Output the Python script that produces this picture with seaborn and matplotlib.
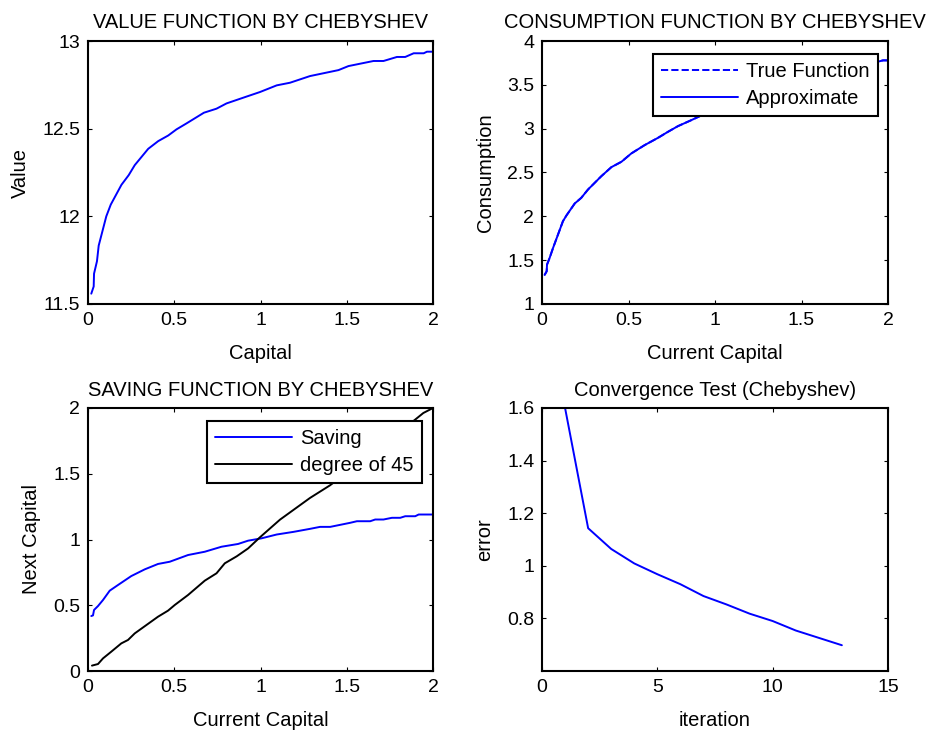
import matplotlib
matplotlib.use("Agg")
import matplotlib.pyplot as plt
import seaborn as sns
import pandas as pd

# ---- value function (Chebyshev approximation) ----
value_k = [0.019, 0.033, 0.035, 0.052, 0.062, 0.106, 0.132, 0.194, 0.236, 0.271,
           0.349, 0.407, 0.465, 0.513, 0.571, 0.672, 0.745, 0.803, 0.910, 0.997,
           1.094, 1.171, 1.287, 1.452, 1.510, 1.655, 1.713, 1.791, 1.839, 1.888,
           1.946, 1.965, 2.000]
value_v = [11.559, 11.600, 11.673, 11.744, 11.833, 12.000, 12.067, 12.180, 12.235, 12.292,
           12.385, 12.429, 12.461, 12.496, 12.530, 12.591, 12.614, 12.644, 12.680, 12.709,
           12.747, 12.762, 12.800, 12.834, 12.857, 12.886, 12.886, 12.909, 12.909, 12.930,
           12.930, 12.939, 12.939]

# ---- consumption function ----
cons_k = [0.015, 0.027, 0.029, 0.044, 0.064, 0.121, 0.141, 0.189, 0.227, 0.266,
          0.343, 0.401, 0.459, 0.516, 0.593, 0.671, 0.728, 0.786, 0.863, 0.921,
          1.000, 1.250, 1.500, 1.750, 1.942, 1.971, 2.000]
cons_c = [1.331, 1.373, 1.449, 1.525, 1.640, 1.944, 2.009, 2.146, 2.211, 2.306,
          2.458, 2.561, 2.622, 2.717, 2.812, 2.896, 2.964, 3.029, 3.097, 3.151,
          3.200, 3.380, 3.530, 3.670, 3.764, 3.779, 3.779]

# ---- saving function (next-period capital) ----
save_k = [0.019, 0.029, 0.035, 0.058, 0.087, 0.126, 0.174, 0.251, 0.329, 0.406,
          0.474, 0.580, 0.677, 0.774, 0.870, 0.928, 1.006, 1.094, 1.191, 1.287,
          1.345, 1.404, 1.520, 1.559, 1.636, 1.665, 1.713, 1.762, 1.810, 1.839,
          1.897, 1.917, 2.000]
save_kp = [0.418, 0.423, 0.464, 0.494, 0.540, 0.611, 0.654, 0.722, 0.773, 0.814,
           0.831, 0.882, 0.907, 0.945, 0.966, 0.991, 1.009, 1.038, 1.058, 1.081,
           1.096, 1.096, 1.127, 1.139, 1.139, 1.152, 1.152, 1.165, 1.165, 1.177,
           1.177, 1.190, 1.190]

# ---- 45-degree reference line ----
deg45_x = [0.023, 0.058, 0.087, 0.135, 0.193, 0.232, 0.271, 0.406, 0.464, 0.503,
           0.580, 0.677, 0.745, 0.793, 0.862, 0.928, 0.997, 1.113, 1.287, 1.403,
           1.650, 1.896, 1.944, 2.000]
deg45_y = [0.041, 0.053, 0.096, 0.147, 0.210, 0.236, 0.286, 0.413, 0.459, 0.502,
           0.578, 0.687, 0.743, 0.819, 0.872, 0.932, 1.017, 1.151, 1.316, 1.412,
           1.660, 1.911, 1.962, 2.000]

# ---- convergence of the iteration ----
iteration = [1, 2, 3, 4, 5, 6, 7, 8, 9, 10, 11, 12, 13]
error = [1.600, 1.143, 1.064, 1.009, 0.968, 0.930, 0.885, 0.853, 0.818, 0.790,
         0.754, 0.726, 0.698]

sns.set_theme(style="white")
plt.rcParams["font.family"] = ["Liberation Sans", "DejaVu Sans"]
plt.rcParams.update({
    "axes.edgecolor": "black",
    "axes.linewidth": 1.5,
    "xtick.direction": "in",
    "ytick.direction": "in",
    "xtick.major.pad": 5.5,
    "ytick.major.pad": 5.5,
    "xtick.labelsize": 14,
    "ytick.labelsize": 14,
    "axes.labelsize": 14.5,
    "axes.titlesize": 14.5,
    "xtick.color": "black",
    "ytick.color": "black",
    "text.color": "black",
    "axes.labelcolor": "black",
})

fig = plt.figure(figsize=(9.33, 7.35), dpi=100)
W, H = 933, 735


def add_axes(x0, y0, x1, y1):
    return fig.add_axes([x0 / W, 1 - y1 / H, (x1 - x0) / W, (y1 - y0) / H])


ax1 = add_axes(88, 41, 433, 304)
ax2 = add_axes(542, 41, 888, 304)
ax3 = add_axes(88, 408, 433, 671)
ax4 = add_axes(542, 408, 888, 671)

BLUE = "#0000ff"
LW = 1.4
LEG_KW = dict(loc="upper right", borderaxespad=0, fontsize=14.5, handlelength=3.8,
              frameon=True, fancybox=False, borderpad=0.42, labelspacing=0.38,
              handletextpad=0.4)


def style_legend(leg):
    frame = leg.get_frame()
    frame.set_edgecolor("black")
    frame.set_linewidth(1.5)
    frame.set_alpha(1)


# value function
sns.lineplot(x=value_k, y=value_v, ax=ax1, color=BLUE, lw=LW, sort=False)
ax1.set_xlim(0, 2)
ax1.set_ylim(11.5, 13)
ax1.set_xticks([0, 0.5, 1, 1.5, 2])
ax1.set_xticklabels(["0", "0.5", "1", "1.5", "2"])
ax1.set_yticks([11.5, 12, 12.5, 13])
ax1.set_yticklabels(["11.5", "12", "12.5", "13"])
ax1.set_title("VALUE FUNCTION BY CHEBYSHEV", pad=9)
ax1.set_xlabel("Capital", labelpad=11)
ax1.set_ylabel("Value", labelpad=9)

# consumption function
df_c = pd.DataFrame({"k": cons_k, "c": cons_c})
sns.lineplot(data=df_c, x="k", y="c", ax=ax2, color=BLUE, lw=LW, ls="--",
             label="True Function", sort=False)
sns.lineplot(data=df_c, x="k", y="c", ax=ax2, color=BLUE, lw=LW,
             label="Approximate", sort=False)
ax2.set_xlim(0, 2)
ax2.set_ylim(1, 4)
ax2.set_xticks([0, 0.5, 1, 1.5, 2])
ax2.set_xticklabels(["0", "0.5", "1", "1.5", "2"])
ax2.set_yticks([1, 1.5, 2, 2.5, 3, 3.5, 4])
ax2.set_yticklabels(["1", "1.5", "2", "2.5", "3", "3.5", "4"])
ax2.set_title("CONSUMPTION FUNCTION BY CHEBYSHEV", pad=9)
ax2.set_xlabel("Current Capital", labelpad=11)
ax2.set_ylabel("Consumption", labelpad=9)
style_legend(ax2.legend(bbox_to_anchor=(0.970, 0.951), **LEG_KW))

# saving function
sns.lineplot(x=save_k, y=save_kp, ax=ax3, color=BLUE, lw=LW, label="Saving", sort=False)
sns.lineplot(x=deg45_x, y=deg45_y, ax=ax3, color="black", lw=LW, label="degree of 45",
             sort=False)
ax3.set_xlim(0, 2)
ax3.set_ylim(0, 2)
ax3.set_xticks([0, 0.5, 1, 1.5, 2])
ax3.set_xticklabels(["0", "0.5", "1", "1.5", "2"])
ax3.set_yticks([0, 0.5, 1, 1.5, 2])
ax3.set_yticklabels(["0", "0.5", "1", "1.5", "2"])
ax3.set_title("SAVING FUNCTION BY CHEBYSHEV", pad=9)
ax3.set_xlabel("Current Capital", labelpad=11)
ax3.set_ylabel("Next Capital", labelpad=9)
style_legend(ax3.legend(bbox_to_anchor=(0.967, 0.951), **LEG_KW))

# convergence
sns.lineplot(x=iteration, y=error, ax=ax4, color=BLUE, lw=LW, sort=False)
ax4.set_xlim(0, 15)
ax4.set_ylim(0.6, 1.6)
ax4.set_xticks([0, 5, 10, 15])
ax4.set_yticks([0.8, 1.0, 1.2, 1.4, 1.6])
ax4.set_yticklabels(["0.8", "1", "1.2", "1.4", "1.6"])
ax4.set_title("Convergence Test (Chebyshev)", pad=9)
ax4.set_xlabel("iteration", labelpad=11)
ax4.set_ylabel("error", labelpad=9)

for ax in (ax1, ax2, ax3, ax4):
    for s in ax.spines.values():
        s.set_visible(True)
        s.set_color("black")
        s.set_linewidth(1.5)
    ax.tick_params(which="both", direction="in", top=True, right=True,
                   bottom=True, left=True, length=3, width=0.8)

fig.savefig("out.png", dpi=100, facecolor="white")
